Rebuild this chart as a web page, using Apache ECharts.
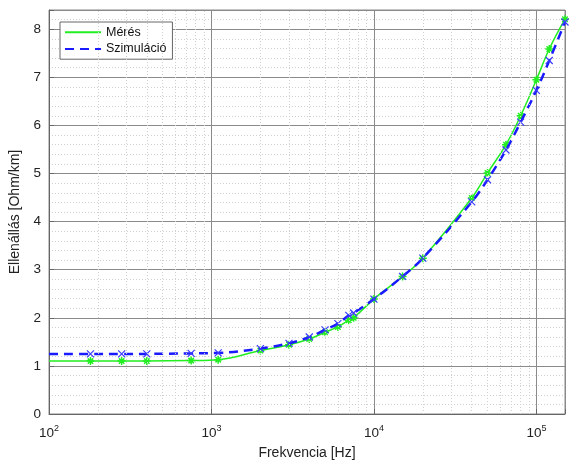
<!DOCTYPE html>
<html>
<head>
<meta charset="utf-8">
<script src="https://cdn.jsdelivr.net/npm/echarts@6/dist/echarts.min.js"></script>
<style>
  html, body { margin: 0; padding: 0; background: #fff; }
  #chart { width: 569px; height: 465px; }
</style>
</head>
<body>
<div id="chart"></div>
<script>
// frekvencia pontok (Hz)
const freq = [100, 180, 280, 400, 750, 1100, 2000, 3000, 4000, 5000, 6000, 7000, 7500,
  10000, 15000, 20000, 40000, 50000, 65000, 80000, 100000, 120000, 150000];
// mért ellenállás (Ohm/km)
const meres = [1.10, 1.10, 1.10, 1.10, 1.11, 1.13, 1.32, 1.44, 1.56, 1.70, 1.81, 1.95, 2.00,
  2.39, 2.86, 3.24, 4.49, 5.01, 5.60, 6.20, 6.95, 7.59, 8.21];
// szimulált ellenállás (Ohm/km)
const szimulacio = [1.25, 1.25, 1.25, 1.25, 1.26, 1.27, 1.36, 1.47, 1.60, 1.75, 1.88, 2.05, 2.10,
  2.39, 2.86, 3.24, 4.41, 4.87, 5.49, 6.07, 6.73, 7.35, 8.15];
// mellék rácsvonalak az x tengelyen
const minorX = [];
[100, 1000, 10000, 100000].forEach(d => {
  for (let k = 2; k <= 9; k++) if (d * k < 150000) minorX.push(d * k);
});

const asterisk = 'path://M0,5L10,5M5,0L5,10M1.6,1.6L8.4,8.4M8.4,1.6L1.6,8.4';
const cross = 'path://M1,1L9,9M9,1L1,9';

const toData = (vals) => freq.map((f, i) => ({
  value: [f, vals[i]],
  symbol: i === 0 ? 'none' : undefined
}));

const chart = echarts.init(document.getElementById('chart'));
chart.setOption({
  animation: false,
  textStyle: { fontFamily: 'Liberation Sans, Arial, sans-serif' },
  grid: { left: 48, right: 4, top: 10, bottom: 47, show: true, borderColor: '#8a8a8a', borderWidth: 1 },
  legend: {
    data: ['Mérés', 'Szimuláció'],
    orient: 'vertical',
    left: 60, top: 22,
    backgroundColor: '#fff',
    borderColor: '#666', borderWidth: 1, borderRadius: 0,
    padding: [3, 6, 3, 4],
    itemGap: 2, itemWidth: 36, itemHeight: 12,
    itemStyle: { opacity: 0 },
    textStyle: { fontSize: 12.5, color: '#111' }
  },
  xAxis: {
    type: 'log', logBase: 10, min: 100, max: 150000,
    name: 'Frekvencia [Hz]', nameLocation: 'middle', nameGap: 32,
    nameTextStyle: { fontSize: 14, color: '#222' },
    axisLine: { lineStyle: { color: '#666' } },
    axisTick: { inside: true, lineStyle: { color: '#666' } },
    axisLabel: {
      color: '#222', fontSize: 13.5, margin: 10,
      formatter: v => {
        const e = Math.round(Math.log10(v));
        return Math.abs(Math.log10(v) - e) < 1e-6 ? '10{s|' + e + '}' : '';
      },
      rich: { s: { fontSize: 9, padding: [0, 0, 9, 0], color: '#222' } }
    },
    splitLine: { show: true, lineStyle: { color: '#8a8a8a', width: 1 } }
  },
  yAxis: {
    type: 'value', min: 0, max: 8.4, interval: 1,
    name: 'Ellenállás [Ohm/km]', nameLocation: 'middle', nameGap: 27,
    nameTextStyle: { fontSize: 14, color: '#222' },
    axisLine: { show: true, lineStyle: { color: '#666' } },
    axisTick: { inside: true, lineStyle: { color: '#666' } },
    axisLabel: {
      color: '#222', fontSize: 13.5,
      formatter: v => Number.isInteger(v) ? String(v) : ''
    },
    splitLine: { lineStyle: { color: '#8a8a8a', width: 1 } },
    minorTick: { show: false, splitNumber: 5 },
    minorSplitLine: { show: true, lineStyle: { color: '#d0d0d0', type: [1, 2], width: 1 } }
  },
  series: [
    {
      name: 'grid-minor', type: 'line', data: [], silent: true,
      markLine: {
        silent: true, symbol: 'none', label: { show: false },
        lineStyle: { color: '#d0d0d0', type: [1, 2], width: 1 },
        data: minorX.map(x => ({ xAxis: x }))
      }
    },
    {
      name: 'Mérés', type: 'line', data: toData(meres),
      smooth: 0.4, symbol: asterisk, symbolSize: 8,
      lineStyle: { color: '#22ee22', width: 1.5 },
      itemStyle: { color: 'none', borderColor: '#22ee22', borderWidth: 1.5 },
      z: 3
    },
    {
      name: 'Szimuláció', type: 'line', data: toData(szimulacio),
      smooth: 0.4, symbol: cross, symbolSize: 7,
      lineStyle: { color: '#1a1aff', width: 2.5, type: [9, 6] },
      itemStyle: { color: 'none', borderColor: '#3b3bff', borderWidth: 1.2 },
      z: 4
    }
  ]
});
</script>
</body>
</html>
